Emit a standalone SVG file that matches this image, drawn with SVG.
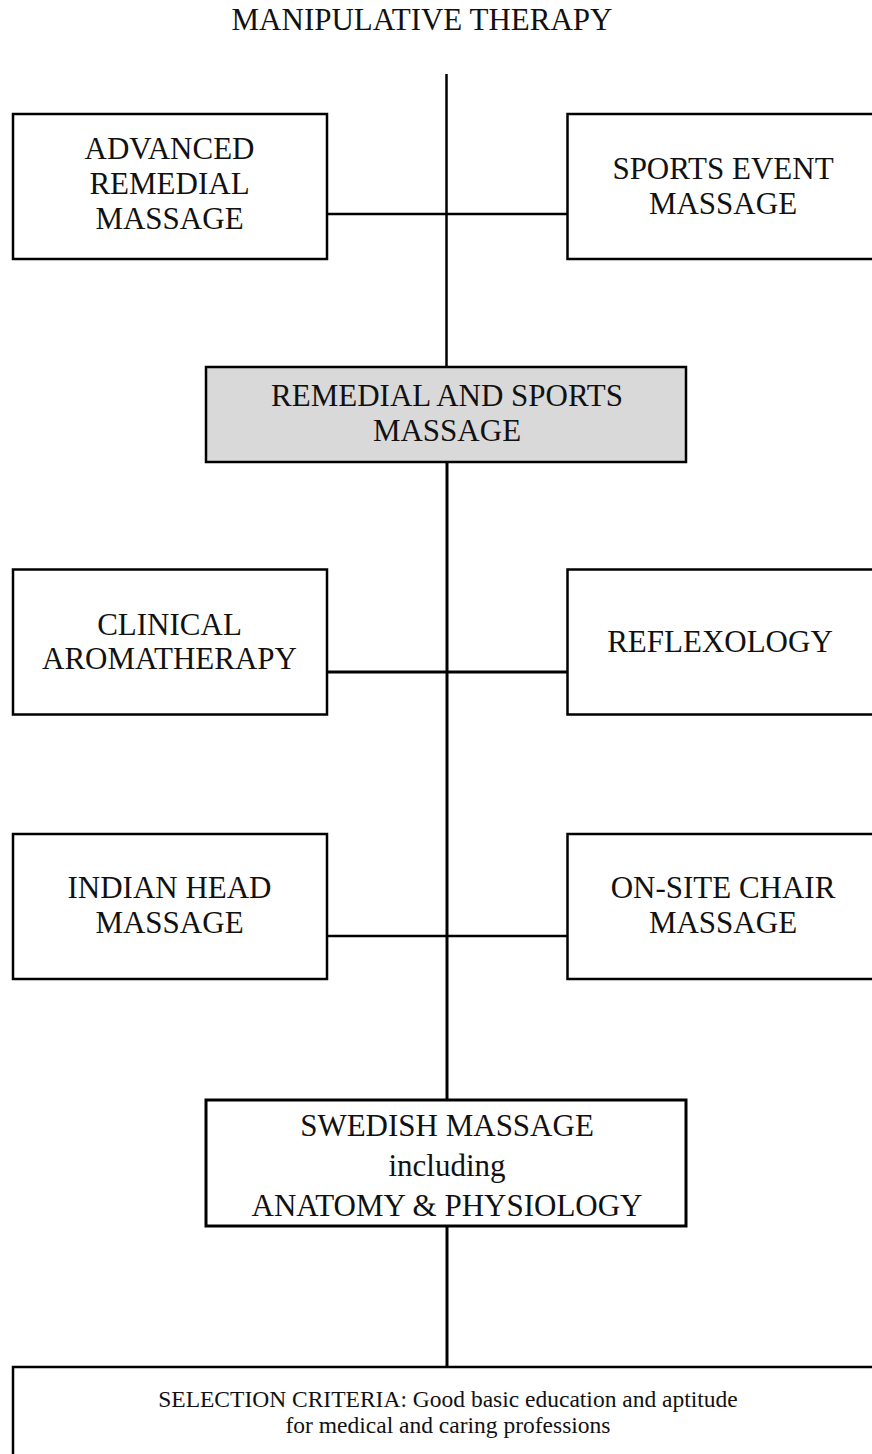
<svg xmlns="http://www.w3.org/2000/svg" width="872" height="1454" viewBox="0 0 872 1454">
<style>
.t{font-family:"Liberation Serif","Times New Roman",serif;font-size:31px;fill:#111;text-anchor:middle}
.s{font-family:"Liberation Serif","Times New Roman",serif;font-size:23.5px;fill:#111;text-anchor:middle}
.box{fill:#fff;stroke:#000;stroke-width:2.5}
.gbox{fill:#d9d9d9;stroke:#000;stroke-width:2.5}
.tbox{fill:#fff;stroke:#000;stroke-width:3}
.ln{stroke:#000;stroke-width:2.5;fill:none}
.lnb{stroke:#000;stroke-width:3;fill:none}
</style>
<rect width="872" height="1454" fill="#fff"/>
<text class="t" x="422" y="30">MANIPULATIVE THERAPY</text>
<g id="connectors">
<line class="ln" x1="446.5" y1="74" x2="446.5" y2="367"/>
<line class="ln" x1="327" y1="214" x2="567" y2="214"/>
<line class="lnb" x1="447" y1="462" x2="447" y2="1100"/>
<line class="lnb" x1="327" y1="672" x2="567" y2="672"/>
<line class="ln" x1="327" y1="936" x2="567" y2="936"/>
<line class="lnb" x1="447" y1="1226" x2="447" y2="1367"/>
</g>
<g id="advanced">
<rect class="box" x="13" y="114" width="314" height="145"/>
<text class="t" x="169.5" y="159">ADVANCED</text>
<text class="t" x="169.5" y="194">REMEDIAL</text>
<text class="t" x="169.5" y="229">MASSAGE</text>
</g>
<g id="sportsevent">
<rect class="box" x="567.5" y="114" width="320" height="145"/>
<text class="t" x="723" y="179">SPORTS EVENT</text>
<text class="t" x="723" y="214">MASSAGE</text>
</g>
<g id="remedial">
<rect class="gbox" x="206" y="367" width="480" height="95"/>
<text class="t" x="447" y="406">REMEDIAL AND SPORTS</text>
<text class="t" x="447" y="441">MASSAGE</text>
</g>
<g id="clinical">
<rect class="box" x="13" y="569.5" width="314" height="145"/>
<text class="t" x="169.5" y="635">CLINICAL</text>
<text class="t" x="169.5" y="669">AROMATHERAPY</text>
</g>
<g id="reflexology">
<rect class="box" x="567.5" y="569.5" width="320" height="145"/>
<text class="t" x="720" y="652">REFLEXOLOGY</text>
</g>
<g id="indianhead">
<rect class="box" x="13" y="834" width="314" height="145"/>
<text class="t" x="169.5" y="898">INDIAN HEAD</text>
<text class="t" x="169.5" y="933">MASSAGE</text>
</g>
<g id="onsite">
<rect class="box" x="567.5" y="834" width="320" height="145"/>
<text class="t" x="723" y="898">ON-SITE CHAIR</text>
<text class="t" x="723" y="933">MASSAGE</text>
</g>
<g id="swedish">
<rect class="tbox" x="206" y="1100" width="480" height="126"/>
<text class="t" x="447" y="1136">SWEDISH MASSAGE</text>
<text class="t" x="447" y="1176">including</text>
<text class="t" x="447" y="1216">ANATOMY &amp; PHYSIOLOGY</text>
</g>
<g id="selection">
<rect class="box" x="13" y="1367" width="900" height="120"/>
<text class="s" x="448" y="1407">SELECTION CRITERIA: Good basic education and aptitude</text>
<text class="s" x="448" y="1433">for medical and caring professions</text>
</g>
</svg>
